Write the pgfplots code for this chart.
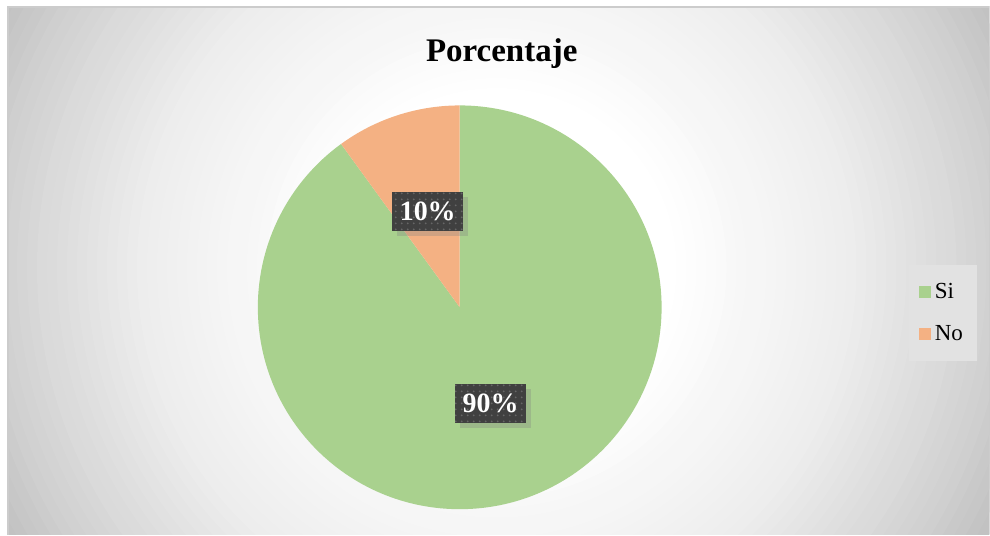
\documentclass[border=0pt]{standalone}
\usepackage{pgfplots}
\pgfplotsset{compat=1.18}
\usepackage{pgfplotstable}
\usepackage{fontspec}
\setmainfont{Liberation Serif}
\usetikzlibrary{shadows,patterns}
\definecolor{siC}{HTML}{A9D18E}
\definecolor{noC}{HTML}{F4B183}
\definecolor{lblC}{HTML}{404040}
\definecolor{legC}{HTML}{E2E2E2}

\pgfplotstableread{
cat val
Si 90
No 10
}\piedata
\pgfplotstablegetelem{0}{val}\of\piedata\let\vSi\pgfplotsretval
\pgfplotstablegetelem{1}{val}\of\piedata\let\vNo\pgfplotsretval
\pgfmathsetmacro\total{\vSi+\vNo}
\pgfmathsetmacro\aSi{90-360*(\vSi/\total)}
\pgfmathsetmacro\aNo{\aSi-360*(\vNo/\total)}

\begin{document}
\begin{tikzpicture}
% background (decoration): 1px = 0.5pt
\fill[white] (0,0) rectangle (495pt,267.5pt);
\begin{scope}
\clip (4pt,0) rectangle (495pt,264pt);
\foreach \r/\g in {600/25,560/24,550/23,540/22,530/21,520/20,510/19,500/18.2,490/17.2,480/16.3,470/15.5,460/14.7,450/14,440/13.2,430/12.4,420/11.6,410/10.9,400/10.1,390/9.3,380/8.5,370/7.8,360/7,350/6.6,340/6.3,330/5.9,320/5.5,310/5.2,300/4.8,290/4.4,280/4.1,270/3.7,260/3.4,250/3,240/2.6,230/2.1,220/1.7,210/1.3,200/0.9,190/0.4,180/0}
  {\fill[black!\g] (248.5pt,133.5pt) circle[radius=\r*0.5pt];}
\end{scope}
\draw[black!20, line width=0.6pt] (4pt,0) -- (4pt,264pt) -- (495pt,264pt);
\begin{axis}[width=495pt,height=267.5pt,scale only axis,
  at={(0,0)}, anchor=south west,
  xmin=0,xmax=990,ymin=0,ymax=535,hide axis,clip=false,
  legend image code/.code={\fill[#1,draw=none] (0pt,-3pt) rectangle (6pt,3pt);},
  legend style={at={(axis cs:909,270)}, anchor=north west, fill=legC, draw=none,
    font=\fontsize{11.5}{13}\selectfont, row sep=8pt, inner xsep=5pt, inner ysep=7pt},
  legend cell align=left]
\fill[siC] (axis cs:460,227.5) -- (axis cs:460,429.5) arc[start angle=90,end angle=\aSi,radius=202] -- cycle;
\fill[noC] (axis cs:460,227.5) -- (axis cs:{460+202*cos(\aSi)},{227.5+202*sin(\aSi)}) arc[start angle=\aSi,end angle=\aNo,radius=202] -- cycle;
\node[fill=lblC, text=white, font=\bfseries\fontsize{14}{14}\selectfont,
  minimum width=35.5pt, minimum height=19.5pt, inner sep=0pt,
  drop shadow={shadow xshift=2.5pt, shadow yshift=-2.5pt, opacity=0.3},
  postaction={pattern=dots, pattern color=black!60!white}]
  at (axis cs:428,323.5) {10\%};
\node[fill=lblC, text=white, font=\bfseries\fontsize{14}{14}\selectfont,
  minimum width=35.5pt, minimum height=19.5pt, inner sep=0pt,
  drop shadow={shadow xshift=2.5pt, shadow yshift=-2.5pt, opacity=0.3},
  postaction={pattern=dots, pattern color=black!60!white}]
  at (axis cs:491,131.5) {90\%};
\node[font=\bfseries\fontsize{16.5}{16.5}\selectfont, anchor=base] at (axis cs:502,473) {Porcentaje};
\addlegendimage{fill=siC}
\addlegendentry{Si}
\addlegendimage{fill=noC}
\addlegendentry{No}
\end{axis}
\end{tikzpicture}
\end{document}
